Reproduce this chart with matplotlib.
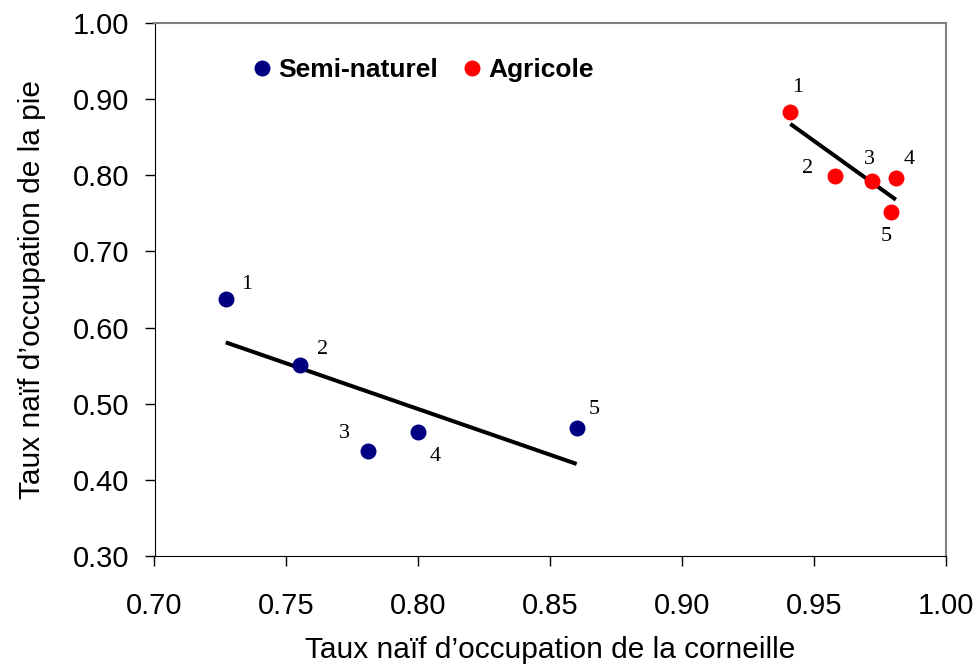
import numpy as np
import matplotlib.pyplot as plt

# taux naïf d'occupation (corneille en x, pie en y)
semi_x = [0.727, 0.755, 0.781, 0.800, 0.860]
semi_y = [0.637, 0.551, 0.438, 0.463, 0.468]
agri_x = [0.941, 0.958, 0.972, 0.981, 0.979]
agri_y = [0.883, 0.799, 0.793, 0.797, 0.752]
site_labels = ['1', '2', '3', '4', '5']

x_ticks = [0.70, 0.75, 0.80, 0.85, 0.90, 0.95, 1.00]
y_ticks = [0.30, 0.40, 0.50, 0.60, 0.70, 0.80, 0.90, 1.00]

# decalage des etiquettes (pixels)
semi_off = [(21, 15), (23, 15), (-24, 17), (17, -25), (18, 19)]
agri_off = [(7, 25), (-28, 8), (-3, 21), (13, 18), (-4, -25)]

plt.rcParams['font.family'] = ['Liberation Sans', 'DejaVu Sans']
gris = '#808080'

fig = plt.figure(figsize=(9.79, 6.71), dpi=100)
ax = fig.add_axes([154.5 / 979, 1 - 556 / 671, 791.5 / 979, 533 / 671])

ax.plot(semi_x, semi_y, 'o', color='#000080', ms=11.5, mec='none', label='Semi-naturel', zorder=3)
ax.plot(agri_x, agri_y, 'o', color='#ff0000', ms=11.5, mec='none', label='Agricole', zorder=3)

# droites de regression
for xs, ys in [(semi_x, semi_y), (agri_x, agri_y)]:
    a, b = np.polyfit(xs, ys, 1)
    xx = np.array([min(xs), max(xs)])
    ax.plot(xx, a * xx + b, color='black', lw=2.9, solid_capstyle='butt', zorder=2)

for xs, ys, offs in [(semi_x, semi_y, semi_off), (agri_x, agri_y, agri_off)]:
    for lab, x, y, o in zip(site_labels, xs, ys, offs):
        ax.annotate(lab, (x, y), xytext=o, textcoords='offset pixels',
                    ha='center', va='center', fontsize=16, family='Liberation Serif')

ax.set_xlim(0.70, 1.00)
ax.set_ylim(0.30, 1.00)
ax.set_xticks(x_ticks)
ax.set_yticks(y_ticks)
ax.set_xticklabels(['%.2f' % v for v in x_ticks], fontsize=21)
ax.set_yticklabels(['%.2f' % v for v in y_ticks], fontsize=21)
ax.tick_params(direction='out', length=7.2, width=1)
ax.tick_params(axis='x', pad=19)
ax.tick_params(axis='y', pad=11)
ax.xaxis.get_major_ticks()[-1].tick1line.set_color(gris)
ax.yaxis.get_major_ticks()[-1].tick1line.set_color(gris)
ax.spines['top'].set_color(gris)
ax.spines['right'].set_color(gris)
ax.spines['top'].set_linewidth(1.5)
ax.spines['right'].set_linewidth(1.5)

ax.set_xlabel('Taux naïf d’occupation de la corneille', fontsize=21.5, labelpad=11)
ax.set_ylabel('Taux naïf d’occupation de la pie', fontsize=21.5, labelpad=19)

ax.legend(loc='center left', bbox_to_anchor=(253.8 / 979, 1 - 70 / 671),
          bbox_transform=fig.transFigure, ncol=2, frameon=False,
          borderpad=0, borderaxespad=0, handlelength=0.6, handletextpad=0.31,
          columnspacing=1.0, prop={'weight': 'bold', 'size': 19})

fig.savefig('out.png', dpi=100)
